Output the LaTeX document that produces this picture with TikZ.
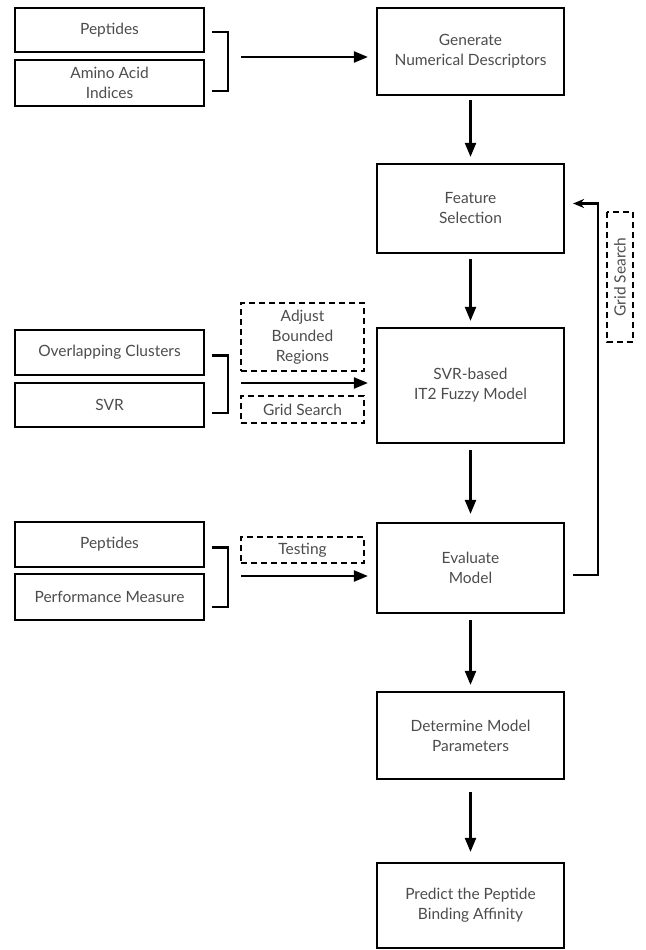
\documentclass[tikz,border=0pt]{standalone}
\usepackage{fontspec}
\setmainfont{Lato}
\usetikzlibrary{arrows.meta}
\begin{document}
\begin{tikzpicture}[x=1pt,y=-1pt,
  box/.style={draw, line width=2.2pt, text=black!70, align=center, inner sep=0pt},
  mainbox/.style={box, minimum width=187},
  inbox/.style={box, minimum width=189},
  dashbox/.style={box, dashed, dash pattern=on 6pt off 4pt, minimum width=123},
  arrow/.style={line width=2.2pt, -{Triangle[length=14pt,width=11pt]}},
  link/.style={line width=2.2pt},
  font=\fontsize{15.5}{20}\selectfont]
\useasboundingbox (0,0) rectangle (645,950);
% main flow
\node[mainbox, minimum height=87] (gen) at (470.5,51.5) {Generate\\Numerical Descriptors};
\node[mainbox, minimum height=89] (feat) at (470.5,208.5) {Feature\\Selection};
\node[mainbox, minimum height=115] (model) at (470.5,385.5) {SVR-based\\IT2 Fuzzy Model};
\node[mainbox, minimum height=90] (eval) at (470.5,568) {Evaluate\\Model};
\node[mainbox, minimum height=87] (det) at (470.5,735.5) {Determine Model\\Parameters};
\node[mainbox, minimum height=85] (pred) at (470.5,905.5) {Predict the Peptide\\Binding Affinity};
% inputs
\node[inbox, minimum height=44] (pep) at (109.5,30) {Peptides};
\node[inbox, minimum height=46] (amino) at (109.5,83) {Amino Acid\\Indices};
\node[inbox, minimum height=45] (ovl) at (109.5,352.5) {Overlapping Clusters};
\node[inbox, minimum height=44] (svr) at (109.5,405) {SVR};
\node[inbox, minimum height=45] (peptest) at (109.5,544.5) {Peptides};
\node[inbox, minimum height=46] (perf) at (109.5,597) {Performance Measure};
% dashed labels
\node[dashbox, minimum height=68] (adjust) at (302.5,337) {Adjust\\Bounded\\Regions};
\node[dashbox, minimum height=27] (grid) at (302.5,409.5) {Grid Search};
\node[dashbox, minimum height=26] (test) at (302.5,550) {Testing};
\node[dashbox, minimum width=130, minimum height=26, rotate=90] (gridfb) at (620,277) {Grid Search};
% brackets
\draw[link] ([xshift=7pt,yshift=-2pt]pep.east) -- ++(16,0) |- ([xshift=7pt,yshift=-8pt]amino.east);
\draw[link] ([xshift=7pt,yshift=-3pt]ovl.east) -- ++(16,0) |- ([xshift=7pt,yshift=-8pt]svr.east);
\draw[link] ([xshift=7pt,yshift=-3pt]peptest.east) -- ++(16,0) |- ([xshift=7pt,yshift=-10pt]perf.east);
\coordinate (b1) at (241,57);
\coordinate (b2) at (241,383);
\coordinate (b3) at (241,576);
\draw[arrow] (b1) -- ([xshift=-8pt]b1 -| gen.west);
\draw[arrow] (b2) -- ([xshift=-8pt]b2 -| model.west);
\draw[arrow] (b3) -- ([xshift=-8pt]b3 -| eval.west);
% down arrows
\draw[arrow] ([yshift=-4pt]gen.south) -- ([yshift=6pt]feat.north);
\draw[arrow] ([yshift=-5pt]feat.south) -- ([yshift=6pt]model.north);
\draw[arrow] ([yshift=-6pt]model.south) -- ([yshift=8pt]eval.north);
\draw[arrow] ([yshift=-6pt]eval.south) -- ([yshift=6pt]det.north);
\draw[arrow] ([yshift=-12pt]det.south) -- ([yshift=10pt]pred.north);
% feedback
\draw[link, -{Stealth[length=11pt,width=9pt]}] ([xshift=8pt,yshift=-7pt]eval.east) -- ++(25,0) |- ([xshift=8pt,yshift=5pt]feat.east);
\end{tikzpicture}
\end{document}
